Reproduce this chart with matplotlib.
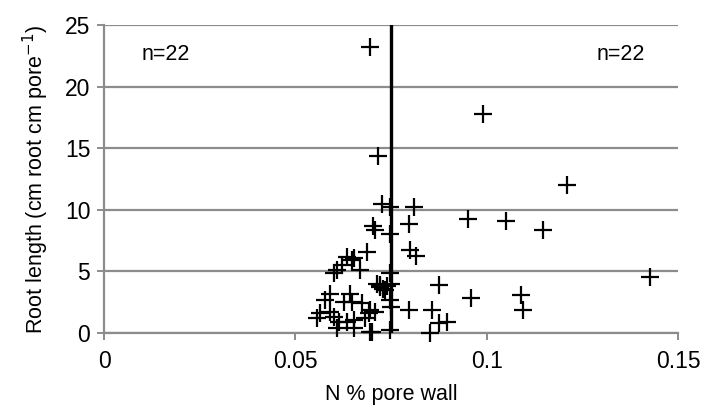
import matplotlib
matplotlib.use("Agg")
import matplotlib.pyplot as plt
from matplotlib.ticker import FuncFormatter

# ---- data ----
n_pore = [
    0.099, 0.121, 0.095, 0.105, 0.1147, 0.1427, 0.0875, 0.0958, 0.109, 0.1096,
    0.0798, 0.0857, 0.0875, 0.0897, 0.0853, 0.081, 0.0796, 0.080, 0.0814,
    0.0715, 0.0694, 0.0727, 0.0748, 0.0703, 0.0709, 0.0748, 0.0687, 0.0652,
    0.0635, 0.0648, 0.0622, 0.0609, 0.060, 0.067, 0.0748, 0.0713, 0.0720,
    0.0730, 0.0740, 0.0750, 0.0735, 0.0748, 0.075, 0.0748, 0.0696, 0.0591,
    0.0643, 0.0578, 0.0626, 0.0648, 0.0674, 0.0696, 0.0709, 0.0565, 0.0591,
    0.0556, 0.060, 0.0613, 0.0635, 0.0652, 0.0683, 0.0691, 0.0609, 0.0652,
    0.0700, 0.0722,
]
root_len = [
    17.8, 12.05, 9.25, 9.1, 8.36, 4.55, 3.9, 2.8, 3.08, 1.87,
    1.87, 1.85, 0.79, 0.92, 0.0, 10.25, 8.85, 6.74, 6.27,
    14.4, 23.2, 10.45, 10.2, 8.7, 8.36, 8.0, 6.6, 6.1,
    6.2, 5.9, 5.5, 5.1, 4.85, 5.1, 4.9, 4.0, 3.9,
    3.6, 3.8, 4.0, 3.5, 2.7, 2.1, 0.25, 0.1, 3.2,
    3.2, 2.7, 2.55, 2.55, 2.4, 1.87, 1.73, 1.6, 1.73,
    1.19, 1.32, 0.92, 0.92, 1.05, 1.19, 1.6, 0.38, 0.38,
    0.1, 3.76,
]
threshold = 0.075
n_labels = ["n=22", "n=22"]

plt.rcParams["font.family"] = ["Liberation Sans", "DejaVu Sans"]

fig = plt.figure(figsize=(7.04, 4.11), dpi=100)
ax = fig.add_axes([0.148, 0.19, 0.815, 0.749])

ax.scatter(n_pore, root_len, marker="+", s=170, c="black", linewidths=1.6,
           zorder=3, clip_on=False)
ax.plot([threshold, threshold], [0, 25], color="black", lw=2.4, zorder=4)

ax.set_xlim(0, 0.15)
ax.set_ylim(0, 25)
ax.set_xticks([0, 0.05, 0.1, 0.15])
ax.set_yticks([0, 5, 10, 15, 20, 25])
ax.xaxis.set_major_formatter(FuncFormatter(lambda v, p: f"{v:g}"))
ax.grid(axis="y", color="#8c8c8c", lw=1.6, zorder=1)

for side in ["top", "right"]:
    ax.spines[side].set_visible(False)
for side in ["left", "bottom"]:
    ax.spines[side].set_color("#8c8c8c")
    ax.spines[side].set_linewidth(1.6)

ax.tick_params(axis="both", colors="#8c8c8c", length=5, width=1.4,
               labelcolor="black", labelsize=16.5)
ax.tick_params(axis="x", pad=7)
ax.tick_params(axis="y", pad=5)

ax.text(0.016, 22.6, n_labels[0], ha="center", va="center", fontsize=15.5)
ax.text(0.135, 22.6, n_labels[1], ha="center", va="center", fontsize=15.5)

ax.set_xlabel("N % pore wall", fontsize=15.5, labelpad=8)
ax.set_ylabel(r"Root length (cm root cm pore$^{-1}$)", fontsize=15.5, labelpad=10)

fig.savefig("out.png", dpi=100)
